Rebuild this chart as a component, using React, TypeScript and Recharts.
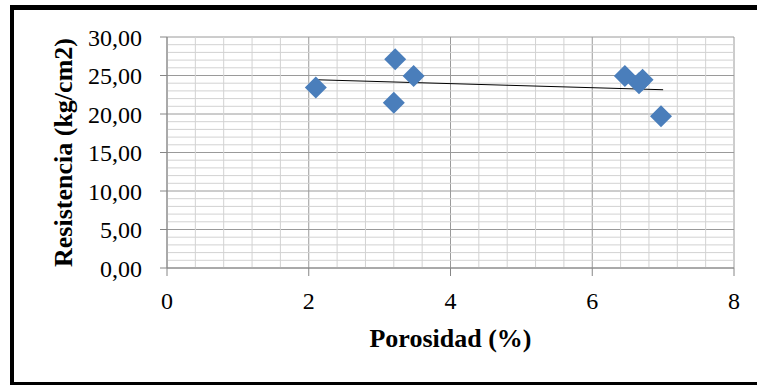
import { ScatterChart, Scatter, XAxis, YAxis, CartesianGrid, ReferenceLine, Label } from 'recharts';

// porosity (%) vs strength (kg/cm2)
const porosidad = [2.1, 3.22, 3.2, 3.48, 6.46, 6.71, 6.66, 6.97];
const resistencia = [23.45, 27.1, 21.45, 24.95, 24.95, 24.45, 24.0, 19.7];

// linear trend line end points
const trendX = [2.1, 7.0];
const trendY = [24.45, 23.15];

const xTicks = [0, 2, 4, 6, 8];
const yTicks = [0, 5, 10, 15, 20, 25, 30];
const xMinor = [0.4, 0.8, 1.2, 1.6, 2.4, 2.8, 3.2, 3.6, 4.4, 4.8, 5.2, 5.6, 6.4, 6.8, 7.2, 7.6];
const yMinor = [1, 2, 3, 4, 6, 7, 8, 9, 11, 12, 13, 14, 16, 17, 18, 19, 21, 22, 23, 24, 26, 27, 28, 29];

const points = porosidad.map((x, i) => ({ x, y: resistencia[i] }));
const trend = trendX.map((x, i) => ({ x, y: trendY[i] }));

const font = '"Liberation Serif", "Times New Roman", serif';
const blue = '#4A7EBB';

const Diamond = (props: any) => {
  const { cx, cy } = props;
  const r = 11;
  return <polygon points={`${cx},${cy - r} ${cx + r},${cy} ${cx},${cy + r} ${cx - r},${cy}`} fill={blue} />;
};

const fmt = (v: number) => v.toFixed(2).replace('.', ',');

export default function App() {
  return (
    <div style={{ position: 'fixed', left: 0, top: 0, width: 757, height: 385, overflow: 'hidden', background: '#fff' }}>
      <div
        style={{
          position: 'absolute',
          left: 10,
          top: 5,
          width: 800,
          height: 380,
          boxSizing: 'border-box',
          borderLeft: '4px solid #000',
          borderTop: '5px solid #000',
          borderBottom: '3px solid #000',
        }}
      />
      <div style={{ position: 'absolute', left: 0, top: 0 }}>
        <ScatterChart width={757} height={385} margin={{ top: 37, right: 23, left: 47, bottom: 32 }}>
          <CartesianGrid stroke="#9a9a9a" strokeWidth={1} />
          {yMinor.map((v) => (
            <ReferenceLine key={'y' + v} y={v} stroke="#d2d2d2" strokeWidth={1} ifOverflow="hidden" />
          ))}
          {xMinor.map((v) => (
            <ReferenceLine key={'x' + v} x={v} stroke="#d2d2d2" strokeWidth={1} ifOverflow="hidden" />
          ))}
          <XAxis
            type="number"
            dataKey="x"
            domain={[0, 8]}
            ticks={xTicks}
            height={85}
            tickSize={8}
            tickMargin={16}
            axisLine={{ stroke: '#868686' }}
            tickLine={{ stroke: '#868686' }}
            tick={{ fill: '#000', fontSize: 24, fontFamily: font }}
          >
            <Label
              value="Porosidad (%)"
              position="insideBottom"
              offset={6}
              style={{ fontFamily: font, fontSize: 26, fontWeight: 'bold', fill: '#000' }}
            />
          </XAxis>
          <YAxis
            type="number"
            dataKey="y"
            domain={[0, 30]}
            ticks={yTicks}
            width={120}
            tickSize={7}
            tickMargin={18}
            tickFormatter={fmt}
            axisLine={{ stroke: '#868686' }}
            tickLine={{ stroke: '#868686' }}
            tick={{ fill: '#000', fontSize: 24, fontFamily: font }}
          >
            <Label
              value="Resistencia (kg/cm2)"
              angle={-90}
              position="insideLeft"
              offset={16}
              style={{ textAnchor: 'middle', fontFamily: font, fontSize: 26, fontWeight: 'bold', fill: '#000' }}
            />
          </YAxis>
          <Scatter
            data={trend}
            line={{ stroke: '#000', strokeWidth: 1 }}
            shape={() => <g />}
            isAnimationActive={false}
          />
          <Scatter data={points} shape={Diamond} isAnimationActive={false} />
        </ScatterChart>
      </div>
    </div>
  );
}
